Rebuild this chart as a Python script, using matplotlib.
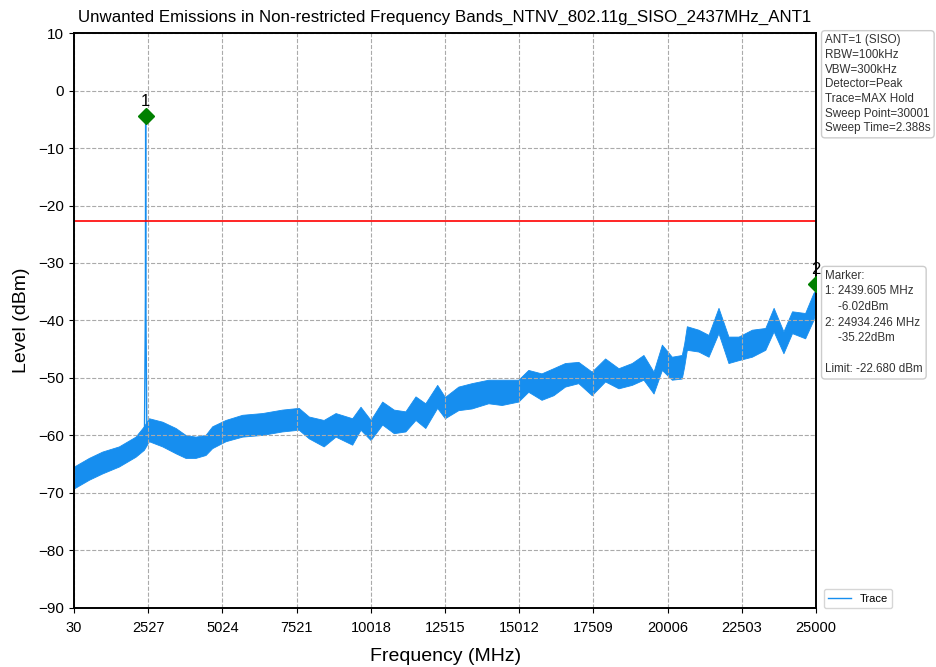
import matplotlib

matplotlib.use("Agg")

import matplotlib.pyplot as plt  # noqa: E402

plt.rcParams["font.family"] = ["Liberation Sans", "DejaVu Sans"]

# 频谱包络（从图上读取的上下沿）
band_freq = [30, 532, 980, 1540, 2100, 2380, 2550, 3000, 3450, 3780, 4120, 4455,
             4680, 5130, 5690, 6360, 7030, 7590, 7930, 8430, 8830, 9390, 9670,
             10010, 10400, 10790, 11180, 11520, 11850, 12250, 12510, 12960,
             13410, 13970, 14420, 14980, 15315, 15760, 16160, 16550, 17000,
             17450, 17900, 18350, 18800, 19190, 19530, 19810, 20145, 20480,
             20560, 20650, 21040, 21380, 21715, 22050, 22390, 22840, 23290,
             23570, 23900, 24190, 24630, 24910, 25000]
band_upper = [-65.4, -63.9, -62.8, -61.9, -60.2, -58.4, -57.0, -57.6, -58.7,
              -59.9, -60.2, -59.9, -58.4, -57.3, -56.4, -56.1, -55.5, -55.2,
              -56.7, -57.3, -56.1, -57.0, -55.0, -57.3, -54.1, -55.5, -55.8,
              -53.2, -54.4, -51.2, -53.3, -51.5, -50.9, -50.3, -50.3, -50.3,
              -48.6, -49.2, -48.3, -47.4, -47.2, -48.9, -46.6, -48.3, -47.4,
              -46.0, -48.9, -44.2, -46.3, -46.0, -44.0, -41.0, -41.6, -42.5,
              -37.8, -42.8, -42.8, -41.6, -41.3, -37.8, -41.9, -38.4, -38.7,
              -35.2, -34.7]
band_lower = [-69.2, -67.7, -66.6, -65.4, -63.7, -62.5, -61.0, -61.9, -63.1,
              -63.9, -63.9, -63.4, -62.2, -61.0, -60.2, -59.9, -59.3, -59.0,
              -60.5, -61.9, -60.2, -61.6, -59.0, -60.8, -58.1, -59.6, -59.3,
              -57.3, -58.7, -55.2, -57.0, -55.6, -55.3, -54.4, -54.7, -54.1,
              -52.4, -53.8, -53.0, -51.5, -50.9, -53.0, -50.6, -51.8, -51.2,
              -50.3, -52.7, -48.6, -50.3, -50.1, -48.0, -45.1, -45.4, -46.3,
              -42.2, -47.4, -46.9, -46.3, -45.1, -41.9, -45.7, -42.2, -43.1,
              -39.9, -37.6]

# 载波尖峰
spike_freq = [2400, 2425, 2432, 2440, 2448, 2455, 2480]
spike_level = [-60.0, -42.0, -36.0, -4.5, -36.0, -42.0, -59.0]

marker_freq = [2439.605, 25000]
marker_level = [-4.5, -33.6]
marker_names = ["1", "2"]

limit_dbm = -22.68
xtick_labels = ["30", "2527", "5024", "7521", "10018", "12515", "15012",
                "17509", "20006", "22503", "25000"]

trace_color = "#168EEF"

fig = plt.figure(figsize=(9.37, 6.67), dpi=100)
ax = fig.add_axes([0.079, 0.0885, 0.792, 0.862])

ax.fill_between(band_freq, band_lower, band_upper, color=trace_color, lw=0.6,
                edgecolor=trace_color)
ax.plot(spike_freq, spike_level, color=trace_color, lw=1.0, label="Trace")
ax.axhline(limit_dbm, color="red", lw=1.2)

ax.plot(marker_freq, marker_level, "D", color="green", markersize=8, zorder=5)
for f, lv, name in zip(marker_freq, marker_level, marker_names):
    ax.text(f, lv + 1.2, name, ha="center", va="bottom", fontsize=12)

ax.set_xlim(30, 25000)
ax.set_ylim(-90, 10)
ax.set_xticks([float(t) for t in xtick_labels])
ax.set_xticklabels(xtick_labels, fontsize=10.5)
ax.set_yticks(range(-90, 11, 10))
ax.tick_params(axis="y", labelsize=11)
ax.tick_params(axis="x", pad=6)
ax.grid(True, ls="--", color="#aaaaaa", lw=0.8)
for s in ax.spines.values():
    s.set_linewidth(1.4)

ax.set_title("Unwanted Emissions in Non-restricted Frequency Bands_NTNV_802.11g_SISO_2437MHz_ANT1",
             fontsize=12.2, pad=8)
ax.set_xlabel("Frequency (MHz)", fontsize=14, labelpad=9)
ax.set_ylabel("Level (dBm)", fontsize=14, labelpad=6)

box = dict(boxstyle="round,pad=0.3", fc="white", ec="#cccccc")
ax.text(1.012, 0.998, "ANT=1 (SISO)\nRBW=100kHz\nVBW=300kHz\nDetector=Peak\n"
        "Trace=MAX Hold\nSweep Point=30001\nSweep Time=2.388s",
        transform=ax.transAxes, va="top", ha="left", fontsize=8.4, bbox=box,
        color="#333333", linespacing=1.3)
ax.text(1.012, 0.588, "Marker:\n1: 2439.605 MHz\n    -6.02dBm\n2: 24934.246 MHz\n"
        "    -35.22dBm\n\nLimit: -22.680 dBm",
        transform=ax.transAxes, va="top", ha="left", fontsize=8.4, bbox=box,
        color="#333333", linespacing=1.4)

ax.legend(loc="lower left", bbox_to_anchor=(1.003, -0.01), fontsize=8,
          edgecolor="#cccccc")

fig.savefig("out.png")
